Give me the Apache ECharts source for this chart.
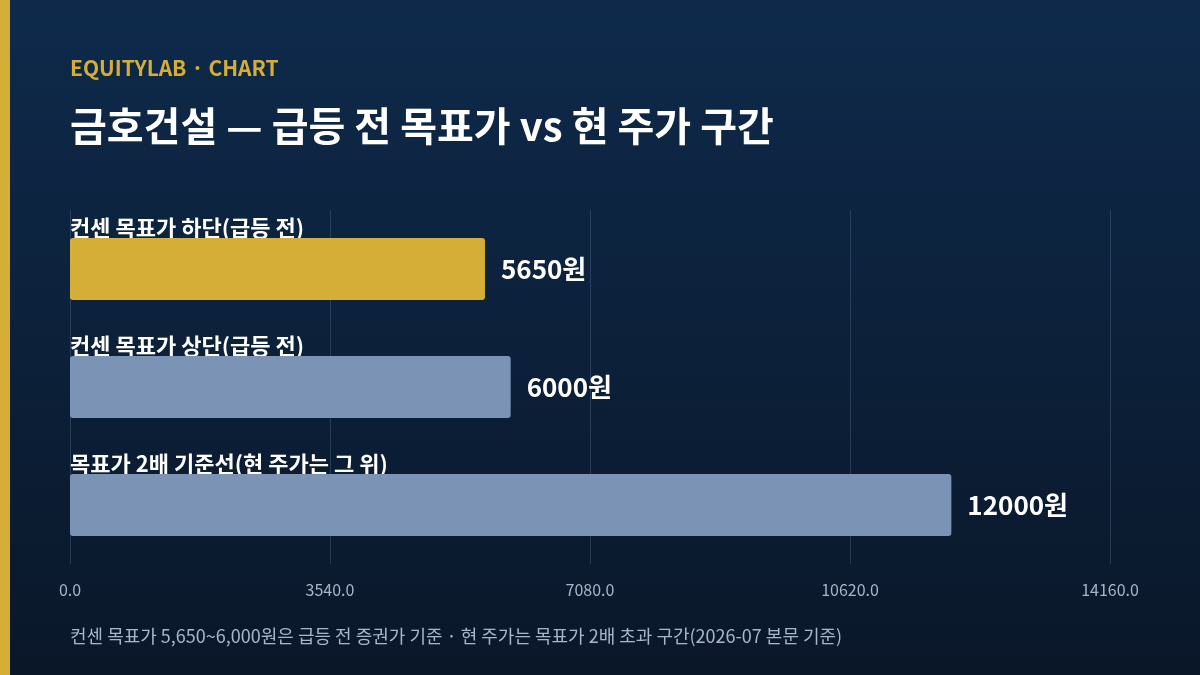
<!DOCTYPE html>
<html><head><meta charset="utf-8">
<script src="https://cdn.jsdelivr.net/npm/echarts@6/dist/echarts.min.js"></script>
<style>html,body{margin:0;padding:0;}#c{width:1200px;height:675px;}</style>
</head><body><div id="c"></div>
<script>
const categories = ['컨센 목표가 하단(급등 전)', '컨센 목표가 상단(급등 전)', '목표가 2배 기준선(현 주가는 그 위)'];
const values = [5650, 6000, 12000];
const barColors = ['#d4ae37', '#7b93b5', '#7b93b5'];
const axisMax = 14160, axisStep = 3540;
const font = '"Noto Sans CJK KR","Noto Sans",sans-serif';
const chart = echarts.init(document.getElementById('c'));
chart.setOption({
  backgroundColor: new echarts.graphic.LinearGradient(0,0,0,1,[{offset:0,color:'#0e2a4b'},{offset:1,color:'#0a1729'}]),
  textStyle:{fontFamily:font},
  graphic:[
    {type:'rect',left:0,top:0,shape:{width:10,height:675},style:{fill:'#d4ae37'}},
    {type:'text',left:70,top:58,style:{text:'EQUITYLAB · CHART',fill:'#d4ae37',font:'bold 21px '+font}},
    {type:'text',left:70,top:106,style:{text:'금호건설 — 급등 전 목표가 vs 현 주가 구간',fill:'#ffffff',font:'bold 40px '+font}},
    {type:'text',left:70,top:627,style:{text:'컨센 목표가 5,650~6,000원은 급등 전 증권가 기준 · 현 주가는 목표가 2배 초과 구간(2026-07 본문 기준)',fill:'#a9b6c8',font:'18px '+font}}
  ],
  grid:{left:70,right:90,top:210,bottom:111},
  xAxis:{type:'value',min:0,max:axisMax,interval:axisStep,
    axisLabel:{color:'#aab5c5',fontSize:16,margin:18,formatter:v=>v.toFixed(1)},
    splitLine:{lineStyle:{color:'rgba(120,150,190,0.25)'}},axisLine:{show:false},axisTick:{show:false}},
  yAxis:{type:'category',data:categories,inverse:true,
    axisLine:{show:false},axisTick:{show:false},
    axisLabel:{inside:true,margin:0,color:'#ffffff',fontSize:22,fontWeight:'bold',verticalAlign:'bottom',padding:[0,0,30,0]}},
  series:[{type:'bar',data:values.map((v,i)=>({value:v,itemStyle:{color:barColors[i]}})),
    barWidth:62,itemStyle:{borderRadius:3},
    label:{show:true,position:'right',distance:16,color:'#ffffff',fontSize:26,fontWeight:'bold',formatter:p=>p.value+'원'}}]
});
</script></body></html>
